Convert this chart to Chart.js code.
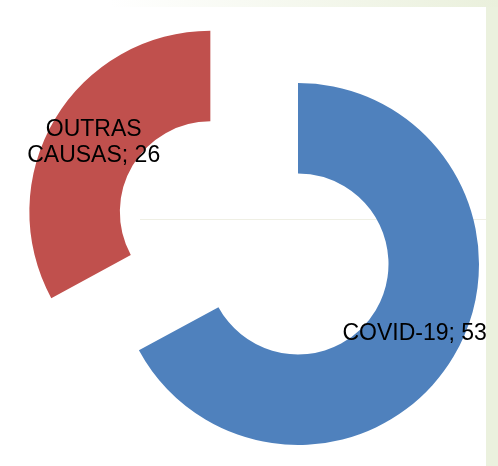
<!DOCTYPE html>
<html>
<head>
<meta charset="utf-8">
<script src="https://cdn.jsdelivr.net/npm/chart.js@4/dist/chart.umd.min.js"></script>
<style>
  html, body { margin: 0; padding: 0; }
  body {
    width: 498px; height: 466px; position: relative; overflow: hidden;
    background: linear-gradient(to right, #ffffff 0px, #ffffff 110px, #eaf0dc 498px);
  }
  #plotBg { position: absolute; left: 0; top: 7px; width: 486px; height: 459px; background: #ffffff; }
  #rightBand { position: absolute; left: 486px; top: 7px; width: 12px; height: 459px; background: #ebf1de; }
  #faintLine { position: absolute; left: 140px; top: 219px; width: 346px; height: 1px; background: #efefe4; }
  #chart { position: absolute; left: 0; top: 0; }
</style>
</head>
<body>
<div id="plotBg"></div>
<div id="rightBand"></div>
<div id="faintLine"></div>
<canvas id="chart" width="498" height="466"></canvas>
<script>
// data
const categories = ['COVID-19', 'OUTRAS CAUSAS'];
const values = [53, 26];
const sliceColors = ['#4F81BD', '#C0504D'];
const explode = [0, 102]; // px the slice is pulled out of the ring

// pull exploded slices outward along their mid angle
const explodePlugin = {
    id: 'explodeSlices',
    afterDatasetsUpdate(chart) {
        const arcs = chart.getDatasetMeta(0).data;
        arcs.forEach((arc, i) => {
            const d = explode[i] || 0;
            if(!d) return;
            const mid = (arc.startAngle + arc.endAngle) / 2;
            arc.x += Math.cos(mid) * d;
            arc.y += Math.sin(mid) * d;
        });
    }
};

// "CATEGORY; value" labels at the middle of each slice
const sliceLabels = {
    id: 'sliceLabels',
    afterDatasetsDraw(chart) {
        const ctx = chart.ctx;
        const arcs = chart.getDatasetMeta(0).data;
        ctx.save();
        ctx.font = '23px "Liberation Sans", Arial, sans-serif';
        ctx.fillStyle = '#000000';
        ctx.textAlign = 'center';
        ctx.textBaseline = 'middle';
        arcs.forEach((arc, i) => {
            const mid = (arc.startAngle + arc.endAngle) / 2;
            const r = (arc.innerRadius + arc.outerRadius) / 2;
            const x = arc.x + Math.cos(mid) * r;
            const y = arc.y + Math.sin(mid) * r;
            const text = categories[i] + '; ' + values[i];
            let lines = [text];
            if(ctx.measureText(text).width > 160) {
                const k = text.indexOf(' ');
                lines = [text.slice(0, k), text.slice(k + 1)];
            }
            const lh = 26;
            lines.forEach((ln, j) => {
                ctx.fillText(ln, x, y + (j - (lines.length - 1) / 2) * lh);
            });
        });
        ctx.restore();
    }
};

new Chart(document.getElementById('chart'), {
    type: 'doughnut',
    data: {
        labels: categories,
        datasets: [{
            data: values,
            backgroundColor: sliceColors,
            borderWidth: 0
        }]
    },
    options: {
        responsive: false,
        devicePixelRatio: 1,
        animation: false,
        events: [],
        radius: 181,
        cutout: '50%',
        layout: { padding: { left: 98, top: 62, right: 0, bottom: 0 } },
        plugins: {
            legend: { display: false },
            tooltip: { enabled: false }
        }
    },
    plugins: [explodePlugin, sliceLabels]
});
</script>
</body>
</html>
